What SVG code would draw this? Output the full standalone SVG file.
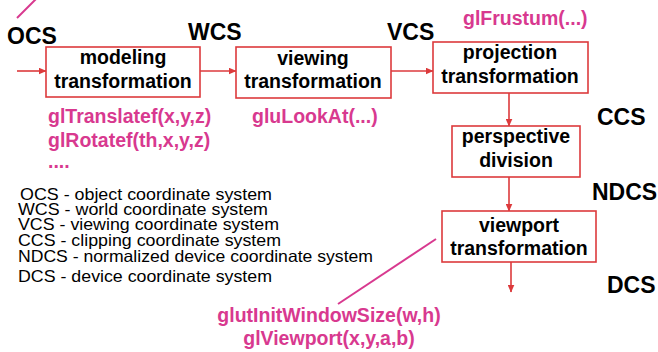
<svg xmlns="http://www.w3.org/2000/svg" width="658" height="352" viewBox="0 0 658 352">
<defs>
<marker id="ah" markerWidth="8" markerHeight="7" refX="7.5" refY="3.5" orient="auto" markerUnits="userSpaceOnUse">
<path d="M0,0 L8,3.5 L0,7 Z" fill="#dc3a3c"/>
</marker>
<style>
.box{fill:#fff;stroke:#dc3a3c;stroke-width:1.6}
.bt{font-family:"Liberation Sans",Arial,sans-serif;font-weight:bold;font-size:19.5px;fill:#000;text-anchor:middle}
.cs{font-family:"Liberation Sans",Arial,sans-serif;font-weight:bold;font-size:23px;fill:#000}
.pk{font-family:"Liberation Sans",Arial,sans-serif;font-weight:bold;font-size:19.5px;fill:#d8398f}
.lg{font-family:"Liberation Sans",Arial,sans-serif;font-size:16.5px;fill:#000}
.con{stroke:#dc3a3c;stroke-width:1.6;fill:none;marker-end:url(#ah)}
.pl{stroke:#d8398f;stroke-width:2;fill:none}
</style>
</defs>
<rect width="658" height="352" fill="#fff"/>
<g id="connectors">
<line class="con" x1="17" y1="71" x2="46" y2="71"/>
<line class="con" x1="200" y1="71" x2="236" y2="71"/>
<line class="con" x1="391" y1="71" x2="433" y2="71"/>
<line class="con" x1="509" y1="93" x2="509" y2="126"/>
<line class="con" x1="509" y1="177" x2="509" y2="211"/>
<line class="con" x1="511" y1="262" x2="511" y2="292"/>
<line class="pl" x1="17" y1="18" x2="36" y2="-1"/>
<line class="pl" x1="338" y1="304" x2="436" y2="239"/>
</g>
<g id="modeling">
<rect class="box" x="46" y="47" width="154" height="50"/>
<text class="bt" x="123" y="64">modeling</text>
<text class="bt" x="123" y="88">transformation</text>
</g>
<g id="viewing">
<rect class="box" x="236" y="47" width="155" height="51"/>
<text class="bt" x="313" y="65">viewing</text>
<text class="bt" x="313" y="88">transformation</text>
</g>
<g id="projection">
<rect class="box" x="433" y="42" width="155" height="51"/>
<text class="bt" x="510" y="59">projection</text>
<text class="bt" x="510" y="83">transformation</text>
</g>
<g id="perspective">
<rect class="box" x="452" y="126" width="128" height="51"/>
<text class="bt" x="516" y="143">perspective</text>
<text class="bt" x="516" y="167">division</text>
</g>
<g id="viewport">
<rect class="box" x="442" y="211" width="154" height="51"/>
<text class="bt" x="519" y="232">viewport</text>
<text class="bt" x="519" y="255">transformation</text>
</g>
<g id="labels">
<text class="cs" x="7" y="44">OCS</text>
<text class="cs" x="188" y="40">WCS</text>
<text class="cs" x="387" y="40">VCS</text>
<text class="cs" x="597" y="125">CCS</text>
<text class="cs" x="592" y="200">NDCS</text>
<text class="cs" x="607" y="293">DCS</text>
</g>
<g id="calls">
<text class="pk" x="463" y="25">glFrustum(...)</text>
<text class="pk" x="48" y="123">glTranslatef(x,y,z)</text>
<text class="pk" x="48" y="147">glRotatef(th,x,y,z)</text>
<text class="pk" x="48" y="168">....</text>
<text class="pk" x="252" y="123">gluLookAt(...)</text>
<text class="pk" x="329" y="322" text-anchor="middle">glutInitWindowSize(w,h)</text>
<text class="pk" x="329" y="345" text-anchor="middle">glViewport(x,y,a,b)</text>
</g>
<g id="legend">
<text class="lg" x="20" y="200" textLength="252" lengthAdjust="spacingAndGlyphs">OCS - object coordinate system</text>
<text class="lg" x="18" y="215" textLength="250" lengthAdjust="spacingAndGlyphs">WCS - world coordinate system</text>
<text class="lg" x="18" y="230" textLength="261" lengthAdjust="spacingAndGlyphs">VCS - viewing coordinate system</text>
<text class="lg" x="18" y="246" textLength="263" lengthAdjust="spacingAndGlyphs">CCS - clipping coordinate system</text>
<text class="lg" x="18" y="262" textLength="355" lengthAdjust="spacingAndGlyphs">NDCS - normalized device coordinate system</text>
<text class="lg" x="18" y="282" textLength="254" lengthAdjust="spacingAndGlyphs">DCS - device coordinate system</text>
</g>
</svg>
